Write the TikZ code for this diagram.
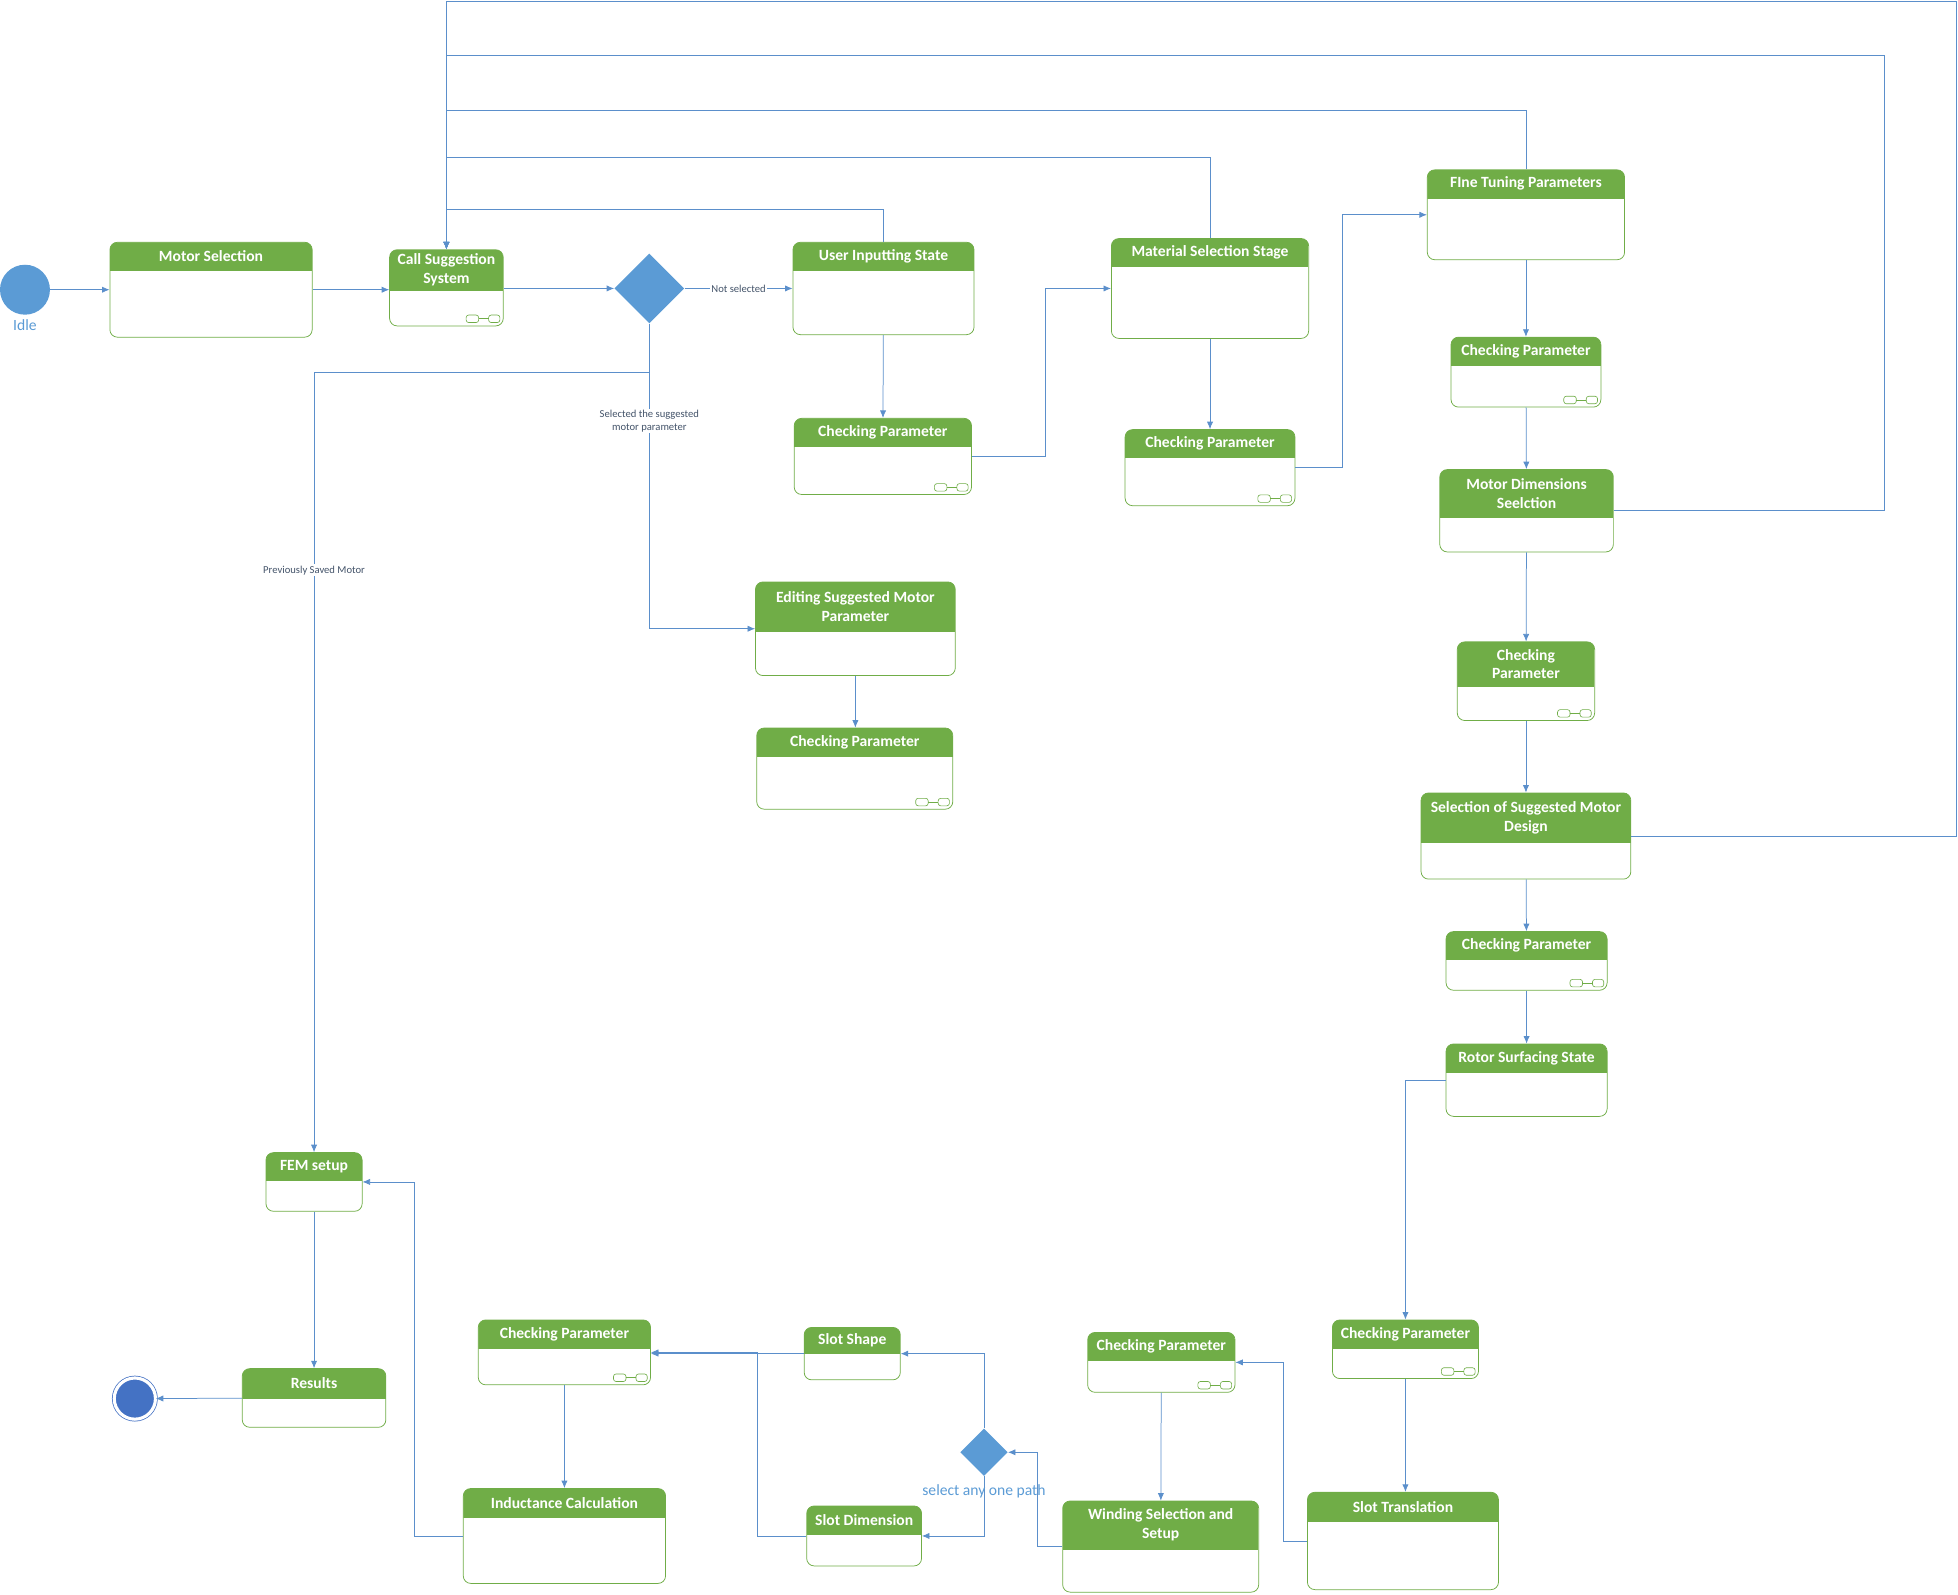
\documentclass[tikz,border=0pt]{standalone}
\usepackage{fontspec}
\setmainfont{Carlito}
\usetikzlibrary{shapes.geometric,arrows.meta}
\definecolor{stgreen}{HTML}{70AD47}
\definecolor{lnblue}{HTML}{5B8FCB}
\definecolor{dmblue}{HTML}{5B9BD5}
\definecolor{finblue}{HTML}{4472C4}
\definecolor{lbltext}{HTML}{44546A}

\begin{document}
\begin{tikzpicture}[x=1pt, y=-1pt,
  state/.style 2 args={draw=stgreen, line width=0.6pt, fill=white, rounded corners=6pt, inner sep=0pt,
    path picture={\fill[stgreen, sharp corners] (path picture bounding box.north west) rectangle ([yshift=-#1]path picture bounding box.north east);},
    label={[sthead, yshift=-#1/2]north:{#2}}},
  sthead/.style={anchor=center, text=white, align=center, inner sep=0pt, font=\fontsize{12.5}{15}\selectfont\bfseries},
  lbl/.style={fill=white, inner sep=1pt, text=lbltext, align=center, font=\fontsize{8.5}{10}\selectfont},
  arr/.style={draw=lnblue, line width=0.6pt, -{Latex[length=6pt,width=5pt]}},
  choice/.style={diamond, fill=dmblue, inner sep=0pt, minimum width=#1, minimum height=#1},
  comp/.pic={\draw[stgreen, line width=0.5pt, rounded corners=2pt] (-30,-9) rectangle (-20,-3) (-12,-9) rectangle (-3,-3);
    \draw[stgreen, line width=0.5pt] (-20,-6) -- (-12,-6);}]
\useasboundingbox (0,0) rectangle (1568,1277);

% start, choices and end
\node[circle, fill=dmblue, minimum size=40pt, inner sep=0pt, label={[text=dmblue, font=\fontsize{12.5}{14}\selectfont]below:Idle}] (idle) at (20,232) {};
\node[choice=56pt] (d1) at (520,231) {};
\node[choice=38pt] (d2) at (788,1163) {};
\node[circle, draw=finblue, fill=finblue, double=white, double distance=2.5pt, line width=0.6pt, minimum size=33pt, inner sep=0pt] (fin) at (108,1120) {};

% states
\node[state={23}{Motor Selection}, minimum width=162pt, minimum height=76pt] (ms) at (169,232) {};
\node[state={33}{Call Suggestion\\System}, minimum width=91pt, minimum height=61pt] (cs) at (357.5,230.5) {};
\node[state={23}{User Inputting State}, minimum width=145pt, minimum height=74pt] (ui) at (707.5,231) {};
\node[state={23}{Checking Parameter}, minimum width=142pt, minimum height=61pt] (cp1) at (707,365.5) {};
\node[state={23}{Material Selection Stage}, minimum width=158pt, minimum height=80pt] (mat) at (969,231) {};
\node[state={23}{Checking Parameter}, minimum width=136pt, minimum height=61pt] (cp2) at (969,374.5) {};
\node[state={23}{FIne Tuning Parameters}, minimum width=158pt, minimum height=72pt] (ft) at (1222,172) {};
\node[state={23}{Checking Parameter}, minimum width=120pt, minimum height=56pt] (cp3) at (1222,298) {};
\node[state={39}{Motor Dimensions\\Seelction}, minimum width=139pt, minimum height=66pt] (mds) at (1222.5,409) {};
\node[state={36}{Checking\\Parameter}, minimum width=110pt, minimum height=63pt] (cp4) at (1222,545.5) {};
\node[state={40}{Selection of Suggested Motor\\Design}, minimum width=168pt, minimum height=69pt] (ssd) at (1222,669.5) {};
\node[state={23}{Checking Parameter}, minimum width=129pt, minimum height=47pt] (cp5) at (1222.5,769.5) {};
\node[state={23}{Rotor Surfacing State}, minimum width=129pt, minimum height=58pt] (rs) at (1222.5,865) {};
\node[state={40}{Editing Suggested Motor\\Parameter}, minimum width=160pt, minimum height=75pt] (esm) at (685,503.5) {};
\node[state={23}{Checking Parameter}, minimum width=157pt, minimum height=65pt] (cp6) at (684.5,615.5) {};
\node[state={23}{FEM setup}, minimum width=77pt, minimum height=47pt] (fem) at (251.5,946.5) {};
\node[state={24}{Results}, minimum width=115pt, minimum height=47pt] (res) at (251.5,1119.5) {};
\node[state={23}{Checking Parameter}, minimum width=138pt, minimum height=52pt] (cp7) at (452,1083) {};
\node[state={24}{Inductance Calculation}, minimum width=162pt, minimum height=76pt] (ind) at (452,1230) {};
\node[state={21}{Slot Shape}, minimum width=77pt, minimum height=42pt] (ss) at (682.5,1084) {};
\node[state={23}{Slot Dimension}, minimum width=92pt, minimum height=48pt] (sd) at (692,1230) {};
\node[state={23}{Checking Parameter}, minimum width=118pt, minimum height=48pt] (cp8) at (930,1091) {};
\node[state={39}{Winding Selection and\\Setup}, minimum width=157pt, minimum height=73pt] (win) at (929.5,1238.5) {};
\node[state={23}{Checking Parameter}, minimum width=117pt, minimum height=47pt] (cp9) at (1125.5,1080.5) {};
\node[state={24}{Slot Translation}, minimum width=153pt, minimum height=78pt] (slt) at (1123.5,1234) {};

% composite icons
\pic at (cs.south east) {comp};
\pic at (cp1.south east) {comp};
\pic at (cp2.south east) {comp};
\pic at (cp3.south east) {comp};
\pic at (cp4.south east) {comp};
\pic at (cp5.south east) {comp};
\pic at (cp6.south east) {comp};
\pic at (cp7.south east) {comp};
\pic at (cp8.south east) {comp};
\pic at (cp9.south east) {comp};

% main flow
\draw[arr] (idle) -- (ms);
\draw[arr] (ms.east) -- (ms.east -| cs.west);
\draw[arr] (cs.east |- d1.west) -- (d1.west);
\draw[arr] (d1.east) -- node[lbl]{Not selected} (d1.east -| ui.west);
\draw[arr] (d1.south) |- node[lbl, pos=0.16]{Selected the suggested\\motor parameter} (esm);
\coordinate (br) at (520,298);
\draw[arr] (br) -| node[lbl, pos=0.627]{Previously Saved Motor} (fem);
\draw[arr] (esm) -- (esm.south |- cp6.north);
\draw[arr] (ui) -- (cp1);
\draw[arr] (cp1.east) -- ++(59,0) |- (mat);
\draw[arr] (mat) -- (cp2);
\draw[arr] (cp2.east) -- ++(38,0) |- (ft);
\draw[arr] (ft) -- (cp3);
\draw[arr] (cp3) -- (mds);
\draw[arr] (mds) -- (cp4);
\draw[arr] (cp4) -- (ssd);
\draw[arr] (ssd) -- (cp5);
\draw[arr] (cp5) -- (rs);
\draw[arr] (rs) -| (cp9);
\draw[arr] (cp9.south) -- (cp9.south |- slt.north);
\draw[arr] (slt.west) -- ++(-19,0) |- (cp8);
\draw[arr] (cp8) -- (win);
\draw[arr] (win.west) -- ++(-20,0) |- (d2);
\draw[arr] (d2.north) |- (ss);
\draw[arr] (d2.south) |- node[pos=0.125, text=dmblue, font=\fontsize{12.5}{14}\selectfont]{select any one path} (sd);
\draw[arr] (ss.west) -- (ss.west -| cp7.east);
\draw[arr] (sd.west) -- ++(-39,0) |- (cp7);
\draw[arr] (cp7) -- (ind);
\draw[arr] (ind.west) -- ++(-39,0) |- (fem);
\draw[arr] (fem) -- (res);
\draw[arr] (res) -- (fin);

% back to the suggestion system
\draw[arr] (ui.north) -- ++(0,-26) -| (cs);
\draw[arr] (mat.north) -- ++(0,-65) -| (cs);
\draw[arr] (ft.north) -- ++(0,-47) -| (cs);
\draw[arr] (mds.east) -| (1509,44) -| (cs);
\draw[arr] (ssd.east) -| (1567,1) -| (cs);
\end{tikzpicture}
\end{document}
